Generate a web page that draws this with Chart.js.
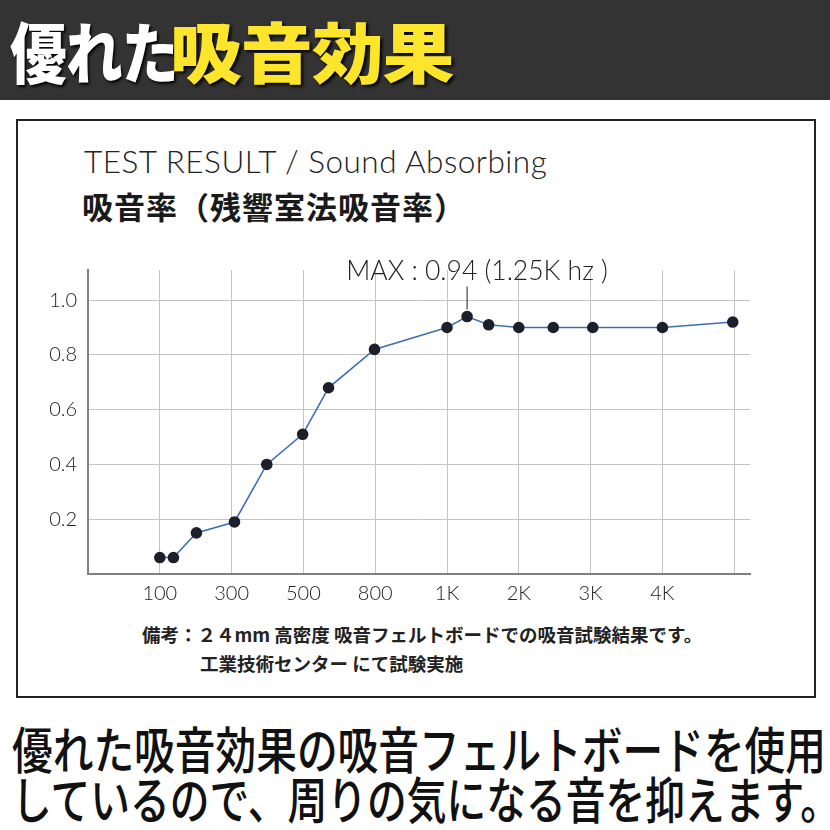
<!DOCTYPE html>
<html>
<head>
<meta charset="utf-8">
<script src="https://cdn.jsdelivr.net/npm/chart.js@4.4.1/dist/chart.umd.min.js"></script>
<style>
  body { margin: 0; width: 830px; height: 830px; background: #fff; position: relative; overflow: hidden; font-family: "Noto Sans CJK JP", sans-serif; }
  #banner { position: absolute; left: 0; top: 0; width: 830px; height: 100px; background: #333333; }
  #banner span { position: absolute; top: 6px; font-size: 66px; font-weight: 900; letter-spacing: -1px; line-height: 86px; text-shadow: 2px 2px 3px #000; transform-origin: 0 0; white-space: nowrap; }
  #b1 { left: 10px; color: #fff; transform: scaleX(0.86); }
  #b2 { left: 170px; color: #fde52b; transform: scaleX(1.09); }
  #box { position: absolute; left: 16px; top: 119px; width: 796px; height: 575px; border: 2px solid #222; }
  #title { position: absolute; left: 84px; top: 142px; font-family: Lato, sans-serif; font-weight: 300; font-size: 31.5px; color: #222; white-space: nowrap; letter-spacing: 0.5px; }
  #sub { position: absolute; left: 82px; top: 183px; font-weight: 700; font-size: 31px; letter-spacing: 1px; color: #1a1a1a; white-space: nowrap; }
  .note { position: absolute; font-weight: 700; font-size: 18.5px; color: #222; white-space: nowrap; }
  #n1 { left: 142px; top: 621px; }
  #n2 { left: 200px; top: 650px; }
  .big { position: absolute; left: 12px; font-weight: 500; font-size: 50px; color: #111; white-space: nowrap; transform-origin: 0 0; line-height: 52px; }
  #l1 { top: 721px; transform: scaleX(0.814); }
  #l2 { top: 771px; transform: scaleX(0.795); }
  #wrap { position: absolute; left: 30px; top: 240px; width: 740px; height: 380px; }
</style>
</head>
<body>
<div id="banner"><span id="b1">優れた</span><span id="b2">吸音効果</span></div>
<div id="box"></div>
<div id="title">TEST RESULT / Sound Absorbing</div>
<div id="sub">吸音率（残響室法吸音率）</div>
<div id="wrap"><canvas id="chart" width="740" height="380"></canvas></div>
<div class="note" id="n1">備考：２４mm 高密度 吸音フェルトボードでの吸音試験結果です。</div>
<div class="note" id="n2">工業技術センター にて試験実施</div>
<div class="big" id="l1">優れた吸音効果の吸音フェルトボードを使用</div>
<div class="big" id="l2">しているので、周りの気になる音を抑えます。</div>
<script>
// positions along the x axis, in gridline units (gridline 1 = "100")
var pointPos = [1.0, 1.19, 1.51, 2.04, 2.49, 2.99, 3.35, 3.99, 5.0, 5.28, 5.58, 6.0, 6.48, 7.03, 8.0, 8.98];
var absorb = [0.06, 0.06, 0.15, 0.19, 0.40, 0.51, 0.68, 0.82, 0.90, 0.94, 0.91, 0.90, 0.90, 0.90, 0.90, 0.92];
var xTickLabels = ['', '100', '300', '500', '800', '1K', '2K', '3K', '4K', ''];
var maxLabel = 'MAX : 0.94 (1.25K hz )';

var points = [];
for (let i = 0; i < pointPos.length; i++) {
    points.push({ x: pointPos[i], y: absorb[i] });
}

var tickFont = { family: 'Lato, sans-serif', size: 20, weight: 300 };

// leader line + text over the highest point
var maxNote = {
    id: 'maxNote',
    afterDatasetsDraw: function (chart) {
        var data = chart.data.datasets[0].data,
            best = 0;
        for (let i = 1; i < data.length; i++) {
            if (data[i].y > data[best].y) best = i;
        }
        var pt = chart.getDatasetMeta(0).data[best],
            ctx = chart.ctx;
        ctx.save();
        ctx.strokeStyle = '#444';
        ctx.lineWidth = 1.2;
        ctx.beginPath();
        ctx.moveTo(pt.x, pt.y - 7);
        ctx.lineTo(pt.x, pt.y - 30);
        ctx.stroke();
        ctx.fillStyle = '#222';
        ctx.font = '300 26.5px Lato, sans-serif';
        ctx.textAlign = 'center';
        ctx.textBaseline = 'alphabetic';
        ctx.fillText(maxLabel, pt.x + 10, pt.y - 37);
        ctx.restore();
    }
};

new Chart(document.getElementById('chart'), {
    type: 'scatter',
    data: {
        datasets: [{
            data: points,
            showLine: true,
            borderColor: '#3f6fb3',
            borderWidth: 1.6,
            pointRadius: 5,
            pointBackgroundColor: '#1d202b',
            pointBorderColor: '#1d202b',
            pointHoverRadius: 5
        }]
    },
    options: {
        responsive: false,
        animation: false,
        layout: { padding: { top: 30, right: 20, left: 0, bottom: 0 } },
        plugins: { legend: { display: false }, tooltip: { enabled: false } },
        scales: {
            x: {
                type: 'linear',
                min: 0,
                max: 9.22,
                afterFit: function (s) { s.height = 46; },
                grid: { color: '#c4c4c4', lineWidth: 1, drawTicks: false },
                border: { color: '#808080', width: 2 },
                ticks: {
                    stepSize: 1,
                    includeBounds: false,
                    padding: 8,
                    color: '#222',
                    font: tickFont,
                    maxRotation: 0,
                    autoSkip: false,
                    callback: function (v) { return xTickLabels[v] || ''; }
                }
            },
            y: {
                min: 0,
                max: 1.11,
                afterFit: function (s) { s.width = 58; },
                grid: { color: '#c4c4c4', lineWidth: 1, drawTicks: false },
                border: { color: '#808080', width: 2 },
                ticks: {
                    stepSize: 0.2,
                    includeBounds: false,
                    padding: 11,
                    color: '#222',
                    font: tickFont,
                    callback: function (v) { return v === 0 ? '' : v.toFixed(1); }
                }
            }
        }
    },
    plugins: [maxNote]
});
</script>
</body>
</html>
